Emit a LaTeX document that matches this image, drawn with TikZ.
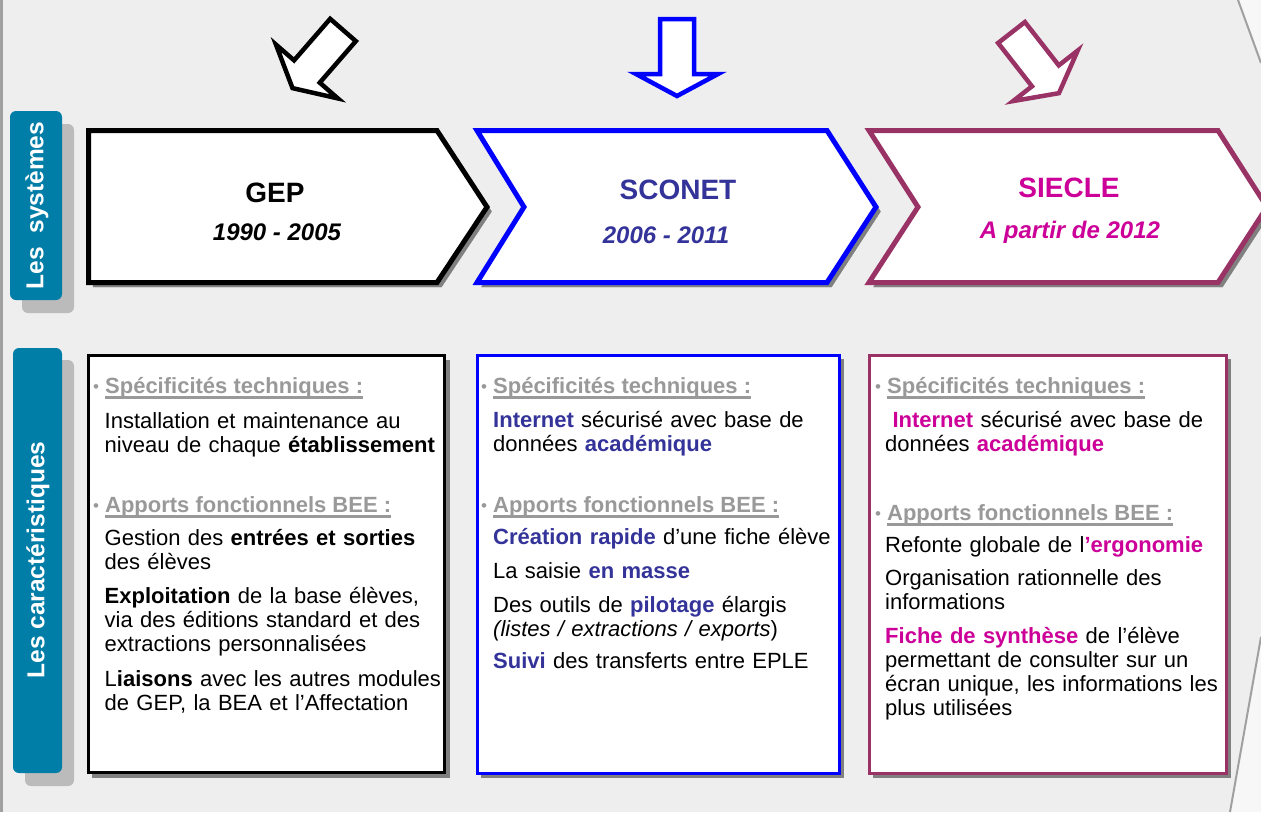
\documentclass[tikz,border=0pt]{standalone}
\usepackage{fontspec}
\setmainfont{Liberation Sans}
\usepackage{tikz}
\usetikzlibrary{positioning}

\definecolor{slidegray}{RGB}{238,238,238}
\definecolor{edgegray}{RGB}{160,160,160}
\definecolor{tabblue}{RGB}{0,126,167}
\definecolor{tabshadow}{RGB}{187,187,187}
\definecolor{boxshadow}{RGB}{128,128,128}
\definecolor{headgray}{RGB}{153,153,153}
\definecolor{sconetblue}{RGB}{51,51,153}
\definecolor{siecleink}{RGB}{204,0,153}
\definecolor{sicleplum}{RGB}{153,51,102}

\newcommand{\undl}[1]{\setbox0\hbox{#1}\rlap{\rule[-5.5pt]{\wd0}{2.4pt}}\box0}
\newcommand{\rubrictext}[1]{{\fontsize{17}{17}\selectfont\raisebox{0.5pt}{•}}\hspace{6pt}\textbf{\undl{#1}}}
\newcommand{\hlsco}[1]{\textcolor{sconetblue}{\textbf{#1}}}
\newcommand{\hlsie}[1]{\textcolor{siecleink}{\textbf{#1}}}
\newcommand{\blockarrow}[3]{\draw[#1,shift={#2},rotate=#3] (0,-17) -- (55,-17) -- (55,-41) -- (77,0) -- (55,41) -- (55,17) -- (0,17) -- cycle;}

\begin{document}
\begin{tikzpicture}[x=1pt,y=-1pt,line join=miter]
  \tikzstyle{shadowed}=[preaction={draw=boxshadow,fill=boxshadow,transform canvas={shift={(4.5pt,-4.5pt)}}}]
  \tikzstyle{tabbox}=[rounded corners=6pt]
  \tikzstyle{tabtext}=[rotate=90,text=white,font=\fontsize{24.5}{26}\selectfont\bfseries]
  \tikzstyle{system}=[anchor=base,font=\fontsize{28}{30}\selectfont\bfseries]
  \tikzstyle{period}=[anchor=base,font=\fontsize{24}{26}\selectfont\bfseries\itshape]
  \tikzstyle{rubric}=[anchor=base west,inner sep=0pt,text=headgray,font=\fontsize{22}{24.3}\selectfont]
  \tikzstyle{body}=[anchor=base west,inner sep=0pt,text width=345pt,align=left,font=\fontsize{22}{24.3}\selectfont]

  \useasboundingbox (0,0) rectangle (1261,812);
  \clip (0,0) rectangle (1261,812);
  \fill[slidegray] (0,0) rectangle (1261,812);
  \fill[white!50!slidegray] (1238,0) -- (1261,0) -- (1261,63) -- cycle;
  \fill[white!50!slidegray] (1230,812) -- (1261,812) -- (1261,637) -- cycle;
  \draw[edgegray,line width=2pt] (1238,0) -- (1261,63) (1230,812) -- (1261,637);
  \draw[edgegray,line width=2.5pt] (1.5,0) -- (1.5,812);

  \fill[tabbox,tabshadow] (22,124) rectangle (74,313);
  \fill[tabbox,tabblue] (10,111) rectangle (62,300);
  \node[tabtext] (systems) at (37,205.5) {Les\ \ systèmes};
  \fill[tabbox,tabshadow] (25,360) rectangle (74,786);
  \fill[tabbox,tabblue] (13,348) rectangle (62,773);
  \node[tabtext] (traits) at (38,560) {Les caractéristiques};

  \blockarrow{black,fill=white,line width=4.5pt}{(343,30)}{229}
  \blockarrow{blue,fill=white,line width=4.5pt}{(677,19)}{270}
  \blockarrow{sicleplum,fill=white,line width=4.5pt}{(1011.5,32.5)}{308}

  \draw[black,fill=white,line width=5pt,shadowed] (88.5,130.5) -- (437,130.5) -- (487,207) -- (437,282.5) -- (88.5,282.5) -- cycle;
  \draw[blue,fill=white,line width=5pt,shadowed] (477,130.5) -- (827,130.5) -- (876,207) -- (827,282.5) -- (477,282.5) -- (524,207) -- cycle;
  \draw[sicleplum,fill=white,line width=5pt,shadowed] (869,130.5) -- (1218,130.5) -- (1267,207) -- (1218,282.5) -- (869,282.5) -- (918,207) -- cycle;

  \node[system] (gep) at (275,202) {GEP};
  \node[period] (gepyears) at (277,240) {1990 - 2005};
  \node[system,text=sconetblue] (sconet) at (678,199) {SCONET};
  \node[period,text=sconetblue] (sconetyears) at (666,243) {2006 - 2011};
  \node[system,text=siecleink] (siecle) at (1069,197) {SIECLE};
  \node[period,text=siecleink] (siecleyears) at (1070,238) {A partir de 2012};

  \draw[black,line width=3pt,fill=white,shadowed] (88,355.5) rectangle (444.5,772.5);
  \draw[blue,line width=3pt,fill=white,shadowed] (477,355) rectangle (839,773);
  \draw[sicleplum,line width=3pt,fill=white,shadowed] (869,355) rectangle (1226,773);

  \node[rubric] (geptech) at (93,393) {\rubrictext{Spécificités techniques :}};
  \node[body] (gepinstall) at (104.5,428) {Installation et maintenance au\\niveau de chaque \textbf{établissement}};
  \node[rubric] (gepapports) at (93,512) {\rubrictext{Apports fonctionnels BEE :}};
  \node[body] (gepgestion) at (104.5,545) {Gestion des \textbf{entrées et sorties}\\des élèves};
  \node[body] (gepexploit) at (104.5,603) {\textbf{Exploitation} de la base élèves,\\via des éditions standard et des\\extractions personnalisées};
  \node[body] (gepliaisons) at (104.5,686) {L\textbf{iaisons} avec les autres modules\\de GEP, la BEA et l’Affectation};

  \node[rubric] (scotech) at (481,393) {\rubrictext{Spécificités techniques :}};
  \node[body] (scointernet) at (493,427) {\hlsco{Internet} sécurisé avec base de\\données \hlsco{académique}};
  \node[rubric] (scoapports) at (481,512) {\rubrictext{Apports fonctionnels BEE :}};
  \node[body] (scocreation) at (493,544) {\hlsco{Création rapide} d’une fiche élève};
  \node[body] (scosaisie) at (493,578) {La saisie \hlsco{en masse}};
  \node[body] (scooutils) at (493,612) {Des outils de \hlsco{pilotage} élargis\\\textit{(listes / extractions / exports})};
  \node[body] (scosuivi) at (493,668) {\hlsco{Suivi} des transferts entre EPLE};

  \node[rubric] (sietech) at (875,393) {\rubrictext{Spécificités techniques :}};
  \node[body] (sieinternet) at (885,427) {\ \hlsie{Internet} sécurisé avec base de\\données \hlsie{académique}};
  \node[rubric] (sieapports) at (875,520) {\rubrictext{Apports fonctionnels BEE :}};
  \node[body] (sierefonte) at (885,552) {Refonte globale de l\hlsie{’ergonomie}};
  \node[body] (sieorga) at (885,585) {Organisation rationnelle des\\informations};
  \node[body] (siefiche) at (885,643) {\hlsie{Fiche de synthèse} de l’élève\\permettant de consulter sur un\\écran unique, les informations les\\plus utilisées};
\end{tikzpicture}
\end{document}
